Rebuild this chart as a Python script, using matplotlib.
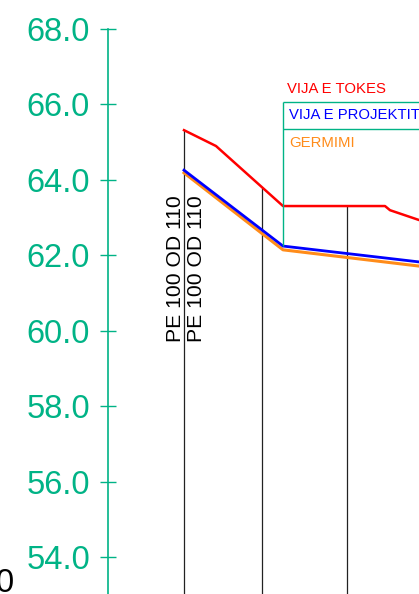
import matplotlib
matplotlib.use("Agg")
import matplotlib.pyplot as plt
from matplotlib.ticker import FormatStrFormatter

plt.rcParams['font.family'] = ['Liberation Sans', 'DejaVu Sans']

GREEN = "#00b386"

# chainage (m) and elevations (m) of the long profile
ground_x = [0.0, 16.0, 49.5, 100.5, 103.0, 117.5]
ground_y = [65.32, 64.90, 63.31, 63.31, 63.20, 62.94]
design_x = [0.0, 49.5, 117.5]
design_y = [64.26, 62.25, 61.83]
excav_x = [0.0, 49.5, 117.5]
excav_y = [64.19, 62.15, 61.72]

station_x = [0.0, 39.0, 81.5]
station_top = [65.32, 63.79, 63.31]
yticks = [54.0, 56.0, 58.0, 60.0, 62.0, 64.0, 66.0, 68.0]
pipe_label = "PE 100 OD 110"

fig = plt.figure(figsize=(4.19, 5.94), dpi=100)
ax = fig.add_axes([0, 0, 1, 1])
ax.set_xlim(-92, 117.5)
ax.set_ylim(53.033, 68.768)

# vertical axis as a spine
for s in ("top", "right", "bottom"):
    ax.spines[s].set_visible(False)
ax.spines["left"].set_position(("data", -38))
ax.spines["left"].set_bounds(53.033, 68.0)
ax.spines["left"].set_color(GREEN)
ax.spines["left"].set_linewidth(1.2)
ax.set_xticks([])
ax.set_yticks(yticks)
ax.yaxis.set_major_formatter(FormatStrFormatter("%.1f"))
ax.tick_params(axis="y", direction="inout", length=12, width=1.0, color=GREEN,
               labelcolor=GREEN, labelsize=23.5, pad=7)

# station verticals
ax.vlines(station_x, 53.033, station_top, color="#222222", lw=0.9)

# profile lines
ax.plot(ground_x, ground_y, color="red", lw=1.8)
ax.plot(excav_x, excav_y, color="#ff8c1a", lw=2.2)
ax.plot(design_x, design_y, color="blue", lw=2.0)

# legend box
ax.vlines(49.5, design_y[1], 66.07, color=GREEN, lw=1.0)
ax.hlines([66.07, 65.35], 49.5, 117.5, color=GREEN, lw=1.0)
ax.text(51.5, 66.40, "VIJA E TOKES", color="red", fontsize=10.7, va="center")
ax.text(52.5, 65.72, "VIJA E PROJEKTIT", color="blue", fontsize=10.7, va="center")
ax.text(52.5, 64.99, "GERMIMI", color="#ff8c1a", fontsize=10.7, va="center")

# pipe labels
ax.text(0.6, 59.72, pipe_label, rotation=90, fontsize=15.2, ha="right", va="bottom")
ax.text(1.6, 59.72, pipe_label, rotation=90, fontsize=15.2, ha="left", va="bottom")

ax.text(-85.0, 53.72, "0", fontsize=23.5, ha="right", va="top")

fig.savefig("out.png", dpi=100)
